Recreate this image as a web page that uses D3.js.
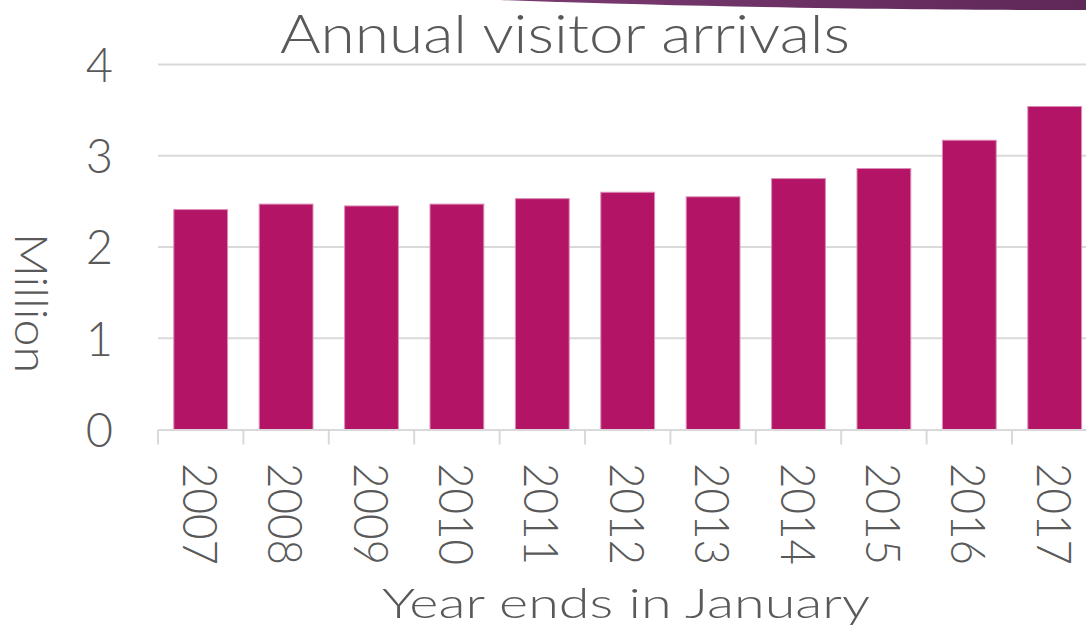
<!DOCTYPE html>
<html><head><meta charset="utf-8">
<script src="https://cdn.jsdelivr.net/npm/d3@7"></script>
<style>
html,body{margin:0;padding:0;background:#fff;}
svg{display:block;}
text{font-family:"Lato","Open Sans",sans-serif;fill:#595959;font-weight:300;}
</style></head>
<body>
<svg id="chart" width="1086" height="631"></svg>
<script>
const years = ["2007","2008","2009","2010","2011","2012","2013","2014","2015","2016","2017"];
const arrivals = [2.41, 2.47, 2.45, 2.47, 2.53, 2.60, 2.55, 2.75, 2.86, 3.17, 3.54];
const yTicks = [0, 1, 2, 3, 4];
const titleText = "Annual visitor arrivals";
const xTitle = "Year ends in January";
const yTitle = "Million";

const svg = d3.select("#chart");
const W = 1086, H = 631;

// decorative swoosh
const defs = svg.append("defs");
const grad = defs.append("linearGradient").attr("id","sw").attr("x1","0").attr("x2","1");
grad.append("stop").attr("offset","0").attr("stop-color","#7b3a72");
grad.append("stop").attr("offset","1").attr("stop-color","#5e2857");
svg.append("path")
  .attr("d","M500,0 L1086,0 L1086,10 C950,10 760,9 500,0 Z")
  .attr("fill","url(#sw)");

const x = d3.scaleBand().domain(years).range([158, 158 + 85.4 * years.length])
  .paddingInner(0.37).paddingOuter(0.185);
const y = d3.scaleLinear().domain([0, 4]).range([429.5, 64.5]);

// gridlines
svg.append("g").selectAll("line").data(yTicks.filter(d => d > 0)).join("line")
  .attr("x1", 158).attr("x2", W)
  .attr("y1", d => y(d)).attr("y2", d => y(d))
  .attr("stroke", "#d9d9d9").attr("stroke-width", 2);

// bars
svg.append("g").selectAll("rect").data(years).join("rect")
  .attr("x", d => x(d))
  .attr("width", x.bandwidth())
  .attr("y", (d, i) => y(arrivals[i]))
  .attr("height", (d, i) => y(0) - y(arrivals[i]))
  .attr("fill", "#b41466")
  .attr("stroke", "#dc8db5").attr("stroke-width", 1);

// x axis
const xAxis = d3.axisBottom(x).tickSize(0).tickFormat("");
const gx = svg.append("g").attr("transform", `translate(0,${y(0)})`).call(xAxis);
gx.select(".domain").attr("stroke", "#d9d9d9").attr("stroke-width", 2);
const bounds = years.map((d, i) => 158 + 85.4 * i);
gx.selectAll(".bt").data(bounds).join("line").attr("class","bt")
  .attr("x1", d => d).attr("x2", d => d).attr("y1", 0).attr("y2", 15)
  .attr("stroke", "#d9d9d9").attr("stroke-width", 2);

// x tick labels rotated
svg.append("g").selectAll("text").data(years).join("text")
  .attr("transform", d => `translate(${x(d) + x.bandwidth()/2 - 18},463) rotate(90)`)
  .attr("font-size", 47)
  .attr("textLength", 102).attr("lengthAdjust", "spacingAndGlyphs")
  .attr("text-anchor", "start")
  .text(d => d);

// y axis labels
const yAxis = d3.axisLeft(y).tickValues(yTicks).tickSize(0).tickFormat(d3.format("d"));
const gy = svg.append("g").attr("transform", "translate(113,0)").call(yAxis);
gy.select(".domain").remove();
gy.selectAll("text").attr("font-size", 47).attr("x", 0).attr("dy", "0.36em")
  .attr("font-family", "Lato, 'Open Sans', sans-serif").attr("font-weight", 300).attr("fill", "#595959");

// titles
svg.append("text").attr("x", 280).attr("y", 53).attr("font-size", 54)
  .attr("textLength", 570).attr("lengthAdjust", "spacingAndGlyphs").text(titleText);
svg.append("text").attr("x", 382).attr("y", 618).attr("font-size", 42)
  .attr("textLength", 488).attr("lengthAdjust", "spacingAndGlyphs").text(xTitle);
svg.append("text").attr("transform", "translate(15,233) rotate(90)").attr("font-size", 46)
  .attr("textLength", 140).attr("lengthAdjust", "spacingAndGlyphs").text(yTitle);
</script>
</body></html>
